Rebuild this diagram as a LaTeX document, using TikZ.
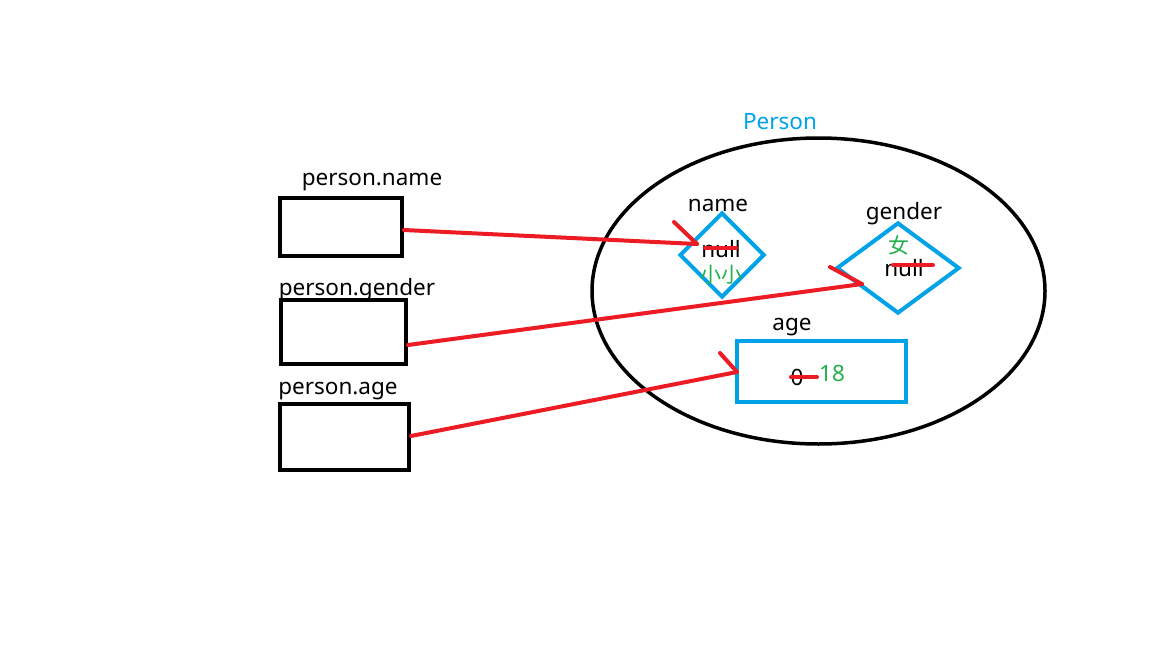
\documentclass[tikz,border=0pt]{standalone}
\usepackage{fontspec}
\setmainfont{Noto Sans}
\newfontfamily\cjk{Noto Sans CJK SC}
\usetikzlibrary{shapes.geometric}
\definecolor{pblue}{RGB}{0,162,232}
\definecolor{pred}{RGB}{237,28,36}
\definecolor{pgreen}{RGB}{34,177,76}
\tikzset{
  itxt/.style={font=\fontsize{22.5}{24}\selectfont, inner sep=0pt},
  lbl/.style={itxt, yshift=-4pt},
  glbl/.style={font=\cjk\fontsize{21}{23}\selectfont, text=pgreen, inner sep=0pt},
  blueshape/.style={draw=pblue, line width=4pt},
  ref/.style={draw=pred, line width=4pt, line cap=round},
  strike/.style={draw=pred, line width=4pt, line cap=round}
}
\begin{document}
\begin{tikzpicture}[x=1pt,y=-1pt]
\useasboundingbox[fill=white] (0,0) rectangle (1152,648);
% variable boxes
\node[draw, line width=4pt, minimum width=122pt, minimum height=58pt, inner sep=0pt] (b1) at (341,227) {};
\node[draw, line width=4pt, minimum width=125pt, minimum height=64pt, inner sep=0pt] (b2) at (343.5,332) {};
\node[draw, line width=4pt, minimum width=129pt, minimum height=66pt, inner sep=0pt] (b3) at (344.5,437) {};
\node[lbl] (l1) at (372,178) {person.name};
\node[lbl] (l2) at (357,286) {person.gender};
\node[lbl] (l3) at (338,387) {person.age};
% object
\node[draw, ellipse, line width=3.5pt, minimum width=453pt, minimum height=306pt, inner sep=0pt] (obj) at (818.5,291) {};
\node[lbl, text=pblue] (ptitle) at (780,118) {Person};
% name field
\node[blueshape, diamond, minimum width=85pt, minimum height=85pt, inner sep=0pt] (dn) at (722,255) {};
\node[lbl] (nlab) at (718,201) {name};
\node[itxt] (nnull) at (721,249) {null};
\node[glbl] (nval) at (721,275) {小小};
\coordinate (ns1) at (705,248); \coordinate (ns2) at (736,248);
\draw[strike] (ns1) -- (ns2);
% gender field
\node[blueshape, diamond, minimum width=123pt, minimum height=91pt, inner sep=0pt] (dg) at (898,268) {};
\node[lbl] (glab) at (904,210) {gender};
\node[glbl] (gval) at (899,245) {女};
\node[itxt] (gnull) at (904,268) {null};
\coordinate (gs1) at (893,265); \coordinate (gs2) at (933,265);
\draw[strike] (gs1) -- (gs2);
% age field
\node[blueshape, minimum width=169pt, minimum height=61pt, inner sep=0pt] (ra) at (821.5,371.5) {};
\node[lbl] (alab) at (792,323) {age};
\node[itxt] (azero) at (797,377) {0};
\node[itxt, text=pgreen] (aval) at (832,373) {18};
\coordinate (as1) at (791,377); \coordinate (as2) at (817,377);
\draw[strike] (as1) -- (as2);
% references
\coordinate (e1) at (697,244); \coordinate (h1) at (674,222);
\coordinate (e2) at (862,284); \coordinate (h2) at (830,267);
\coordinate (e3) at (737,372); \coordinate (h3) at (720,353);
\draw[ref] ([yshift=-3pt]b1.east) -- (e1);
\draw[ref] (h1) -- (e1);
\draw[ref] ([yshift=-13pt]b2.east) -- (e2);
\draw[ref] (h2) -- (e2);
\draw[ref] ([yshift=1pt]b3.east) -- (e3);
\draw[ref] (h3) -- (e3);
\end{tikzpicture}
\end{document}
